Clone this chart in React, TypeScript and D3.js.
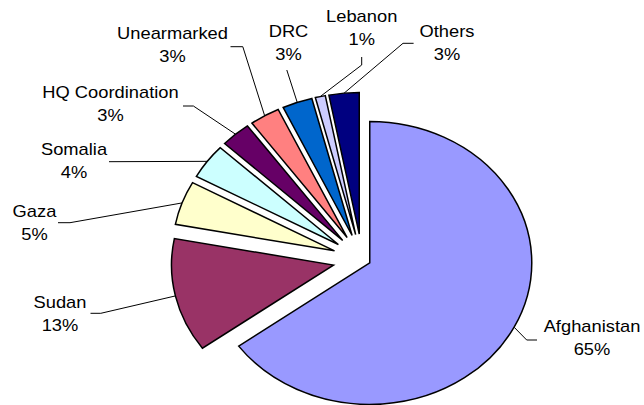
import React from "react";
import * as d3 from "d3";

const categories = ["Afghanistan", "Sudan", "Gaza", "Somalia", "HQ Coordination", "Unearmarked", "DRC", "Lebanon", "Others"];
const values = [65, 13, 5, 4, 3, 3, 3, 1, 3];
const percentLabels = ["65%", "13%", "5%", "4%", "3%", "3%", "3%", "1%", "3%"];
const colors = ["#9999FF", "#993366", "#FFFFCC", "#CCFFFF", "#660066", "#FF8080", "#0066CC", "#CCCCFF", "#000080"];

// layout (not data)
const W = 644, H = 405;
const CX = 362, CY = 259.5;
const R = 141.5;
const SX = 1.145; // horizontal stretch of the original picture
const explode = [7.6, 25.5, 25.5, 25.5, 25.5, 25.5, 25.5, 25.5, 25.5];
// label text centre (first line), leader elbow and end
const labelLayout = [
  { x: 592, y: 326, ex: 526.7, ey: 340, hx: 537, hy: 340 },
  { x: 60, y: 302, ex: 100.8, ey: 313.3, hx: 90.5, hy: 313.3 },
  { x: 34.5, y: 211, ex: 70, ey: 222.7, hx: 58, hy: 222.7 },
  { x: 74, y: 149, ex: 109, ey: 161.7, hx: 109, hy: 161.7 },
  { x: 110.5, y: 92.5, ex: 193.4, ey: 106, hx: 183, hy: 106 },
  { x: 172.5, y: 33.5, ex: 242.8, ey: 46.7, hx: 230.5, hy: 46.7 },
  { x: 288.5, y: 31, ex: 286.8, ey: 70, hx: 286.8, hy: 70 },
  { x: 361.7, y: 16, ex: 361.7, ey: 65, hx: 361.7, hy: 57 },
  { x: 447, y: 31, ex: 403, ey: 43.3, hx: 413.6, hy: 43.3 },
];

export default function App() {
  const pie = d3.pie<number>().sort(null).startAngle(0).endAngle(2 * Math.PI)(values);
  const arc = d3.arc<d3.PieArcDatum<number>>().innerRadius(0).outerRadius(R);

  return (
    <svg width={W} height={H} style={{ position: "absolute", left: 0, top: 0, background: "#fff" }}
      fontFamily="'Liberation Sans', Arial, sans-serif">
      <g transform={`translate(${CX},${CY}) scale(${SX},1)`}>
        {pie.map((p, i) => {
          const mid = (p.startAngle + p.endAngle) / 2;
          const dx = explode[i] * Math.sin(mid);
          const dy = -explode[i] * Math.cos(mid);
          return (
            <path key={i} d={arc(p) || ""} transform={`translate(${dx},${dy})`}
              fill={colors[i]} stroke="#000" strokeWidth={1.5} strokeLinejoin="miter"
              vectorEffect="non-scaling-stroke" />
          );
        })}
      </g>
      {pie.map((p, i) => {
        const mid = (p.startAngle + p.endAngle) / 2;
        const d = explode[i];
        const sx = CX + SX * (d + R) * Math.sin(mid);
        const sy = CY - (d + R) * Math.cos(mid);
        const L = labelLayout[i];
        return (
          <g key={i}>
            <polyline points={`${sx},${sy} ${L.ex},${L.ey} ${L.hx},${L.hy}`} fill="none" stroke="#000" strokeWidth={1} />
            <g transform={`translate(${L.x},${L.y}) scale(${SX},1)`}>
              <text textAnchor="middle" dominantBaseline="central" fontSize={16} fill="#000">
                <tspan x={0} y={0}>{categories[i]}</tspan>
                <tspan x={0} y={23}>{percentLabels[i]}</tspan>
              </text>
            </g>
          </g>
        );
      })}
    </svg>
  );
}
